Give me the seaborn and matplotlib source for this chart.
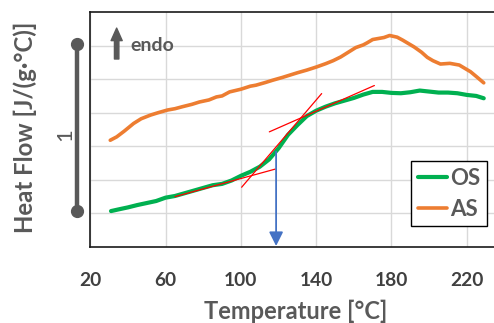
import numpy as np
import pandas as pd
import seaborn as sns
import matplotlib.pyplot as plt

# DSC heat-flow curves (arbitrary offset units, 1 unit of scale bar = 5 grid units)
os_temp = [31, 35, 40, 45, 50, 55, 60, 65, 70, 75, 80, 85, 90, 95, 100, 105, 110,
           115, 120, 125, 130, 135, 140, 145, 150, 155, 160, 165, 170, 175, 180,
           185, 190, 195, 200, 205, 210, 215, 220, 225, 229]
os_flow = [1.07, 1.12, 1.18, 1.25, 1.31, 1.37, 1.47, 1.52, 1.60, 1.68, 1.76, 1.84,
           1.88, 1.98, 2.12, 2.24, 2.39, 2.61, 2.94, 3.34, 3.63, 3.90, 4.06, 4.18,
           4.28, 4.36, 4.44, 4.54, 4.62, 4.62, 4.59, 4.58, 4.61, 4.66, 4.63, 4.60,
           4.60, 4.58, 4.53, 4.50, 4.43]

as_temp = [30.6, 34, 38, 43, 47, 52, 56, 61, 65, 69, 74, 78, 83, 87, 90, 94, 100,
           105, 108, 113, 117, 122, 126, 130, 135, 140, 145, 149, 153, 157, 161,
           165, 167, 170, 176, 179, 183, 186, 192, 196, 199, 202, 206, 211, 216,
           222, 225, 229]
as_flow = [3.18, 3.28, 3.45, 3.68, 3.82, 3.93, 4.00, 4.08, 4.12, 4.18, 4.25, 4.32,
           4.38, 4.47, 4.50, 4.62, 4.70, 4.79, 4.82, 4.90, 4.97, 5.05, 5.12, 5.19,
           5.27, 5.36, 5.46, 5.55, 5.66, 5.80, 5.94, 6.02, 6.08, 6.18, 6.24, 6.30,
           6.25, 6.16, 5.96, 5.80, 5.65, 5.55, 5.45, 5.47, 5.42, 5.22, 5.08, 4.89]

# Tangent construction for the glass-transition onset
tan_before_t = [65, 118.2]
tan_before_y = [1.50, 2.32]
tan_steep_t = [100.4, 142.9]
tan_steep_y = [1.78, 4.57]
tan_after_t = [115.1, 170.9]
tan_after_y = [3.43, 4.81]
onset_temp = 118.7
onset_flow = 2.84

x_ticks = [20, 60, 100, 140, 180, 220]
scale_bar_y = [1.07, 6.04]

GREEN = '#00B050'
ORANGE = '#ED7D31'
GREY = '#595959'

sns.set_theme(style='white')
plt.rcParams['font.family'] = ['Lato', 'DejaVu Sans']

fig = plt.figure(figsize=(4.94, 3.23), dpi=100)
ax = fig.add_axes([90.3 / 494, 76 / 323, 403.7 / 494, 235 / 323])

df_os = pd.DataFrame({'Temperature': os_temp, 'HeatFlow': os_flow})
df_as = pd.DataFrame({'Temperature': as_temp, 'HeatFlow': as_flow})
sns.lineplot(data=df_os, x='Temperature', y='HeatFlow', ax=ax, color=GREEN,
             linewidth=3.0, label='OS', sort=False, estimator=None)
sns.lineplot(data=df_as, x='Temperature', y='HeatFlow', ax=ax, color=ORANGE,
             linewidth=2.6, label='AS', sort=False, estimator=None)

for tt, ty in [(tan_before_t, tan_before_y), (tan_steep_t, tan_steep_y),
               (tan_after_t, tan_after_y)]:
    ax.plot(tt, ty, color='#FF0000', lw=0.9, zorder=4)

ax.annotate('', xy=(onset_temp, 0.03), xytext=(onset_temp, onset_flow),
            arrowprops=dict(arrowstyle='-|>,head_length=0.7,head_width=0.35',
                            color='#4472C4', lw=1.3, shrinkA=0, shrinkB=0),
            zorder=5)

ax.set_xlim(20, 234.45)
ax.set_ylim(0, 7)
ax.set_xticks(x_ticks)
ax.set_yticks(range(1, 7))
ax.set_yticklabels([])
ax.grid(True, color='#D9D9D9', lw=1.0)
ax.set_axisbelow(True)

for side in ['left', 'bottom', 'top']:
    ax.spines[side].set_color('#1a1a1a')
    ax.spines[side].set_linewidth(1.2)
ax.spines['right'].set_visible(False)

ax.tick_params(axis='x', direction='in', length=5, width=1.2, color='#1a1a1a',
               pad=18, labelsize=13.8, labelcolor='#404040')
ax.tick_params(axis='y', length=0)
for lbl in ax.get_xticklabels():
    lbl.set_fontweight('bold')

ax.set_xlabel('Temperature [°C]', fontsize=17, fontweight='bold', color=GREY)
ax.xaxis.set_label_coords(0.51, -0.226)
ax.set_ylabel('Heat Flow [J/(g·°C)]', fontsize=17.3, fontweight='bold', color=GREY,
              va='center')
ax.yaxis.set_label_coords(-0.162, 0.509)

# Scale bar for 1 J/(g·°C)
ax.plot([12.9, 12.9], scale_bar_y, color=GREY, lw=3.2, marker='o', ms=8.5,
        clip_on=False, zorder=5)
ax.text(6.6, 3.34, '1', rotation=90, ha='center', va='center', fontsize=16,
        color=GREY)

# Endothermic direction
ax.annotate('', xy=(34.0, 6.52), xytext=(34.0, 5.6),
            arrowprops=dict(arrowstyle='simple,head_length=0.9,head_width=0.8,tail_width=0.32',
                            color=GREY, shrinkA=0, shrinkB=0, mutation_scale=10))
ax.text(41.1, 5.84, 'endo', ha='left', va='baseline', fontsize=14,
        fontweight='bold', color=GREY)

leg = ax.legend(loc='upper right', bbox_to_anchor=(0.983, 0.366), borderaxespad=0,
                fancybox=False, framealpha=1, edgecolor='black', fontsize=16,
                handlelength=1.3, handletextpad=0.15, labelspacing=0.45,
                borderpad=0.3)
leg.get_frame().set_linewidth(1.0)
for txt in leg.get_texts():
    txt.set_color(GREY)
    txt.set_fontweight('bold')

fig.savefig('out.png', dpi=100)
